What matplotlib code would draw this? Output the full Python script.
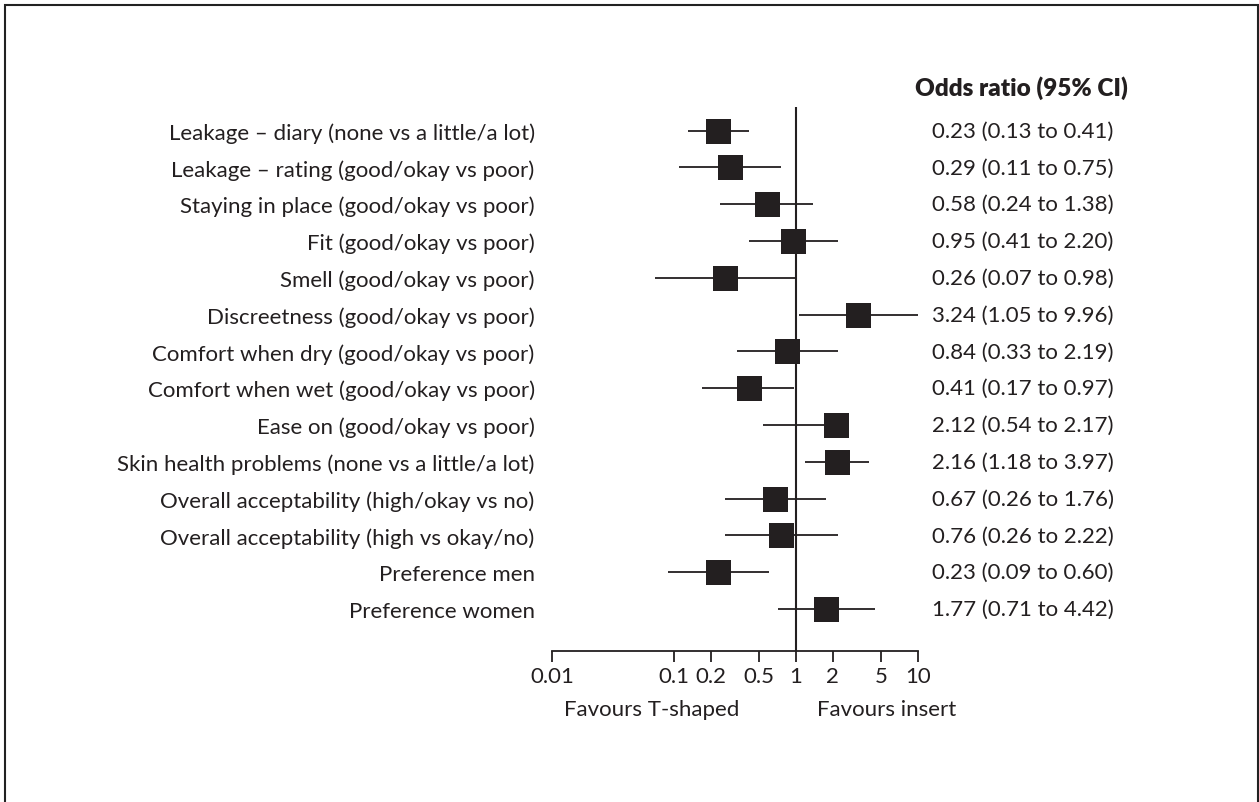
import numpy as np
import matplotlib.pyplot as plt
from matplotlib.patches import Rectangle

plt.rcParams['font.family'] = ['Lato', 'DejaVu Sans']

# outcomes, top to bottom
outcomes = ["Leakage \u2013 diary (none vs a little/a lot)",
            "Leakage \u2013 rating (good/okay vs poor)",
            "Staying in place (good/okay vs poor)",
            "Fit (good/okay vs poor)",
            "Smell (good/okay vs poor)",
            "Discreetness (good/okay vs poor)",
            "Comfort when dry (good/okay vs poor)",
            "Comfort when wet (good/okay vs poor)",
            "Ease on (good/okay vs poor)",
            "Skin health problems (none vs a little/a lot)",
            "Overall acceptability (high/okay vs no)",
            "Overall acceptability (high vs okay/no)",
            "Preference men",
            "Preference women"]
odds = [0.23, 0.29, 0.58, 0.95, 0.26, 3.24, 0.84, 0.41, 2.12, 2.16, 0.67, 0.76, 0.23, 1.77]
ci_low = [0.13, 0.11, 0.24, 0.41, 0.07, 1.05, 0.33, 0.17, 0.54, 1.18, 0.26, 0.26, 0.09, 0.71]
ci_high = [0.41, 0.75, 1.38, 2.20, 0.98, 9.96, 2.19, 0.97, 2.17, 3.97, 1.76, 2.22, 0.60, 4.42]

xticks = [0.01, 0.1, 0.2, 0.5, 1, 2, 5, 10]
xticklabels = ["0.01", "0.1", "0.2", "0.5", "1", "2", "5", "10"]

ink = '#231f20'
W, H = 1259, 803
fs = 16

fig = plt.figure(figsize=(W / 100, H / 100), dpi=100)
# frame round the figure
fig.patches.append(Rectangle((5 / W, -0.02), 1252.5 / W, 1.02 - 6 / H, transform=fig.transFigure,
                             fill=False, edgecolor='#222222', linewidth=1.5))

ax_l, ax_r, ax_t, ax_b = 552, 918, 108, 652
ax = fig.add_axes([ax_l / W, 1 - ax_b / H, (ax_r - ax_l) / W, (ax_b - ax_t) / H])

rows = np.arange(len(outcomes))
ax.hlines(rows, ci_low, ci_high, color=ink, linewidth=1.3)
ax.plot(odds, rows, 's', color=ink, markersize=18, markeredgewidth=0)
ax.axvline(1, color=ink, linewidth=1.5)

ax.set_xscale('log')
ax.set_xlim(0.01, 10)
ax.set_ylim(14.14, -0.64)
ax.set_xticks(xticks)
ax.set_xticklabels(xticklabels)
ax.minorticks_off()
ax.set_xticks([], minor=True)
ax.tick_params(axis='x', direction='out', length=8, width=1.3, color=ink,
               labelsize=fs, labelcolor=ink, pad=3)
ax.set_yticks(rows)
ax.set_yticklabels(outcomes)
ax.tick_params(axis='y', length=0, pad=12.5, labelsize=fs, labelcolor=ink)

for s in ['top', 'left', 'right']:
    ax.spines[s].set_visible(False)
ax.spines['bottom'].set_color(ink)
ax.spines['bottom'].set_linewidth(1.3)

# right hand column
col_x = (1023 - ax_l) / (ax_r - ax_l)
tr = ax.get_yaxis_transform()
ax.text(col_x - 0.005, -1.19, "Odds ratio (95% CI)", transform=tr, ha='center', va='center',
        fontsize=17.5, fontweight='heavy', color=ink, clip_on=False)
for i in rows:
    lab = "%.2f (%.2f to %.2f)" % (odds[i], ci_low[i], ci_high[i])
    ax.text(col_x, i, lab, transform=tr, ha='center', va='center',
            fontsize=fs, color=ink, clip_on=False)

ax.text((652 - ax_l) / (ax_r - ax_l), -0.107, "Favours T-shaped", transform=ax.transAxes,
        ha='center', va='center', fontsize=fs, color=ink)
ax.text((887 - ax_l) / (ax_r - ax_l), -0.107, "Favours insert", transform=ax.transAxes,
        ha='center', va='center', fontsize=fs, color=ink)

fig.savefig('out.png', dpi=100)
